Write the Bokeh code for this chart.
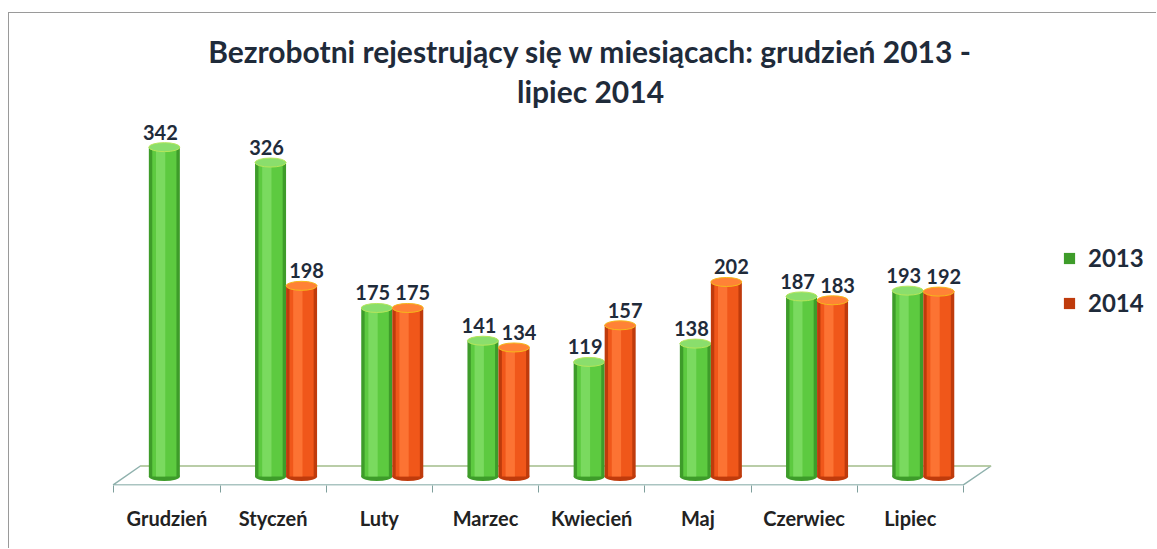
from bokeh.plotting import figure
from bokeh.models import Range1d, FixedTicker, Legend, LegendItem, Title, ColumnDataSource
from bokeh.core.properties import value
from bokeh.embed import file_html
from bokeh.resources import INLINE

# ---------------- data ----------------
months = ["Grudzień", "Styczeń", "Luty", "Marzec", "Kwiecień", "Maj", "Czerwiec", "Lipiec"]
v2013 = [342, 326, 175, 141, 119, 138, 187, 193]
v2014 = [None, 198, 175, 134, 157, 202, 183, 192]
series_names = ["2013", "2014"]
title_line1 = "Bezrobotni rejestrujący się w miesiącach: grudzień 2013 -"
title_line2 = "lipiec 2014"

# ---------------- styling ----------------
GREEN = dict(edge="#3e9c2a", body="#5dca40", hi="#82dd66", cap="#8ade6c", capline="#b6e65a")
ORANGE = dict(edge="#bf3b0c", body="#f0571a", hi="#ff7a3a", cap="#ff8236", capline="#f5b81a")
TXT = "#1f2b3a"
FONT = value("Lato")

OX, OY = 9, 13       # chart-area border offset (margin + 1px border)
PAGE_W, PAGE_H = 1157, 549
W, H = PAGE_W - OX, PAGE_H - OY
FRAME_LEFT_PAGE = 23
LEFT = FRAME_LEFT_PAGE - OX
BOTTOM = 64
TOP = 108 - OY
PXU = 0.963          # pixels per unit (vertical)
XPU = 106.2          # pixels per category (horizontal)
X0 = 113.3           # page x of the first category boundary
frame_h = H - BOTTOM - TOP
zero_from_bottom = 9
y0 = -zero_from_bottom / PXU
y1 = y0 + frame_h / PXU

p = figure(width=W, height=H, output_backend="svg", toolbar_location=None,
           x_range=Range1d((FRAME_LEFT_PAGE - X0) / XPU, (PAGE_W - X0) / XPU),
           y_range=Range1d(y0, y1),
           min_border_left=LEFT, min_border_right=0, min_border_top=TOP,
           min_border_bottom=BOTTOM, y_axis_location=None)
p.styles = {"margin-left": "8px", "margin-top": "12px",
            "border-left": "1px solid #9a9a9a", "border-top": "1px solid #9a9a9a"}
p.grid.visible = False
p.outline_line_color = None
p.background_fill_color = "white"
p.border_fill_color = "white"

# title (two centred lines; later-added title sits further from the frame)
p.add_layout(Title(text=title_line2, align="center", text_font="Lato", text_font_size="30px",
                   text_font_style="bold", text_color=TXT, standoff=0), "above")
p.add_layout(Title(text=title_line1, align="center", text_font="Lato", text_font_size="30px",
                   text_font_style="bold", text_color=TXT, standoff=3), "above")

# floor (3D base)
fy = -8.4 / PXU
by = 10.5 / PXU
p.patch([-0.006, 8.0, 8.26, 0.25], [fy, fy, by, by], fill_color="white",
        line_color="#8fb1ad", line_width=1.5)
p.line([0.25, 8.26], [by, by], line_color="#c9d68e", line_width=1)

# x axis: labels in category centres, ticks on boundaries
ax = p.xaxis[0]
ax.ticker = FixedTicker(ticks=[i + 0.5 for i in range(len(months))],
                        minor_ticks=list(range(len(months) + 1)))
ax.major_label_overrides = {i + 0.5: m for i, m in enumerate(months)}
ax.major_tick_line_color = None
ax.axis_line_color = None
ax.minor_tick_line_color = "#7f9f9c"
ax.minor_tick_out = 7
ax.minor_tick_in = 0
ax.major_label_standoff = 13
ax.major_label_text_font = "Lato"
ax.major_label_text_font_size = "20px"
ax.major_label_text_font_style = "bold"
ax.major_label_text_color = "#222222"

BW = 0.292
SHIFT = 0.122   # 3D depth shift of the bar pair relative to the category centre
renderers = []
for vals, off, col, lx in [(v2013, -BW / 2, GREEN, -4), (v2014, BW / 2, ORANGE, 5)]:
    xs = [i + 0.5 + SHIFT + off for i, v in enumerate(vals) if v is not None]
    ys = [v for v in vals if v is not None]
    src = ColumnDataSource(dict(x=xs, top=ys, lbl=[str(v) for v in ys]))
    p.ellipse(x="x", y=0, width=BW, height=9, height_units="screen", source=src,
              fill_color=col["edge"], line_color=None)
    r = p.vbar(x="x", top="top", bottom=0, width=BW, source=src,
               fill_color=col["edge"], line_color=None)
    renderers.append(r)
    p.vbar(x="x", top="top", bottom=0, width=BW * 0.78, source=src,
           fill_color=col["body"], line_color=None)
    src2 = ColumnDataSource(dict(x=[x - BW * 0.12 for x in xs], top=ys))
    p.vbar(x="x", top="top", bottom=0, width=BW * 0.3, source=src2,
           fill_color=col["hi"], line_color=None, fill_alpha=0.8)
    p.ellipse(x="x", y="top", width=BW, height=9, height_units="screen", source=src,
              fill_color=col["cap"], line_color=col["capline"], line_width=1)
    p.text(x="x", y="top", text="lbl", source=src,
           text_align="center", text_baseline="alphabetic", y_offset=-15, x_offset=lx,
           text_font=FONT, text_font_style="bold", text_font_size="20px",
           text_color=TXT)

legend = Legend(items=[LegendItem(label=series_names[0], renderers=[renderers[0]]),
                       LegendItem(label=series_names[1], renderers=[renderers[1]])],
                location=(1039, 168), orientation="vertical",
                glyph_width=14, glyph_height=14, label_height=20, spacing=16,
                label_standoff=12, padding=0, margin=0,
                border_line_color=None, background_fill_alpha=0,
                label_text_font="Lato", label_text_font_style="bold",
                label_text_font_size="24px", label_text_color=TXT)
p.add_layout(legend, "center")

open("out.html", "w").write(file_html(p, INLINE))
